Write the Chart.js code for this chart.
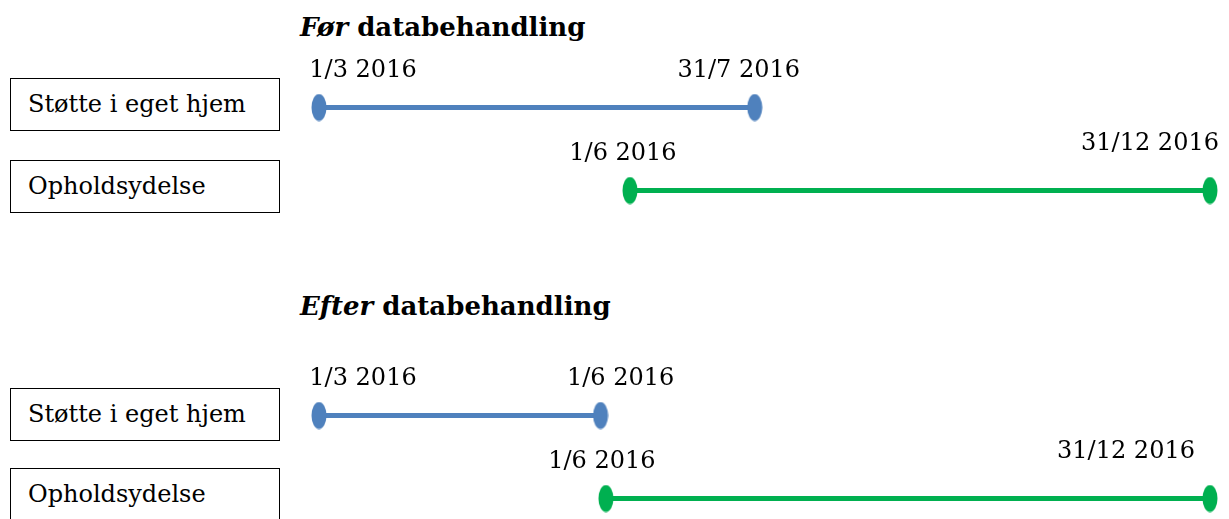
<!DOCTYPE html>
<html>
<head>
<meta charset="utf-8">
<script src="https://cdn.jsdelivr.net/npm/chart.js@4/dist/chart.umd.min.js"></script>
<style>
    html, body { margin: 0; padding: 0; background: #fff; width: 1229px; height: 519px; overflow: hidden; }
    .title { position: absolute; left: 300px; font: bold 26px "DejaVu Serif", serif; color: #000; line-height: 32px; }
    .title i { font-style: italic; }
    .box { position: absolute; left: 10px; height: 51px; border: 1.5px solid #000;
           font: 24px "DejaVu Serif", serif; line-height: 51px; padding-left: 17px; box-sizing: content-box; width: 251px; }
    .panel { position: absolute; left: 0; width: 1229px; height: 266px; }
</style>
</head>
<body>
<div class="title" style="top:11px"><i>Før</i> databehandling</div>
<div class="title" style="top:290px"><i>Efter</i> databehandling</div>
<div id="boxes"></div>
<div class="panel" style="top:16px"><canvas id="before"></canvas></div>
<div class="panel" style="top:324px"><canvas id="after"></canvas></div>
<script>
// lanes
const categories = ['Støtte i eget hjem', 'Opholdsydelse'];

// "Før databehandling"
const beforeStartDates = ['1/3 2016', '1/6 2016'];
const beforeEndDates = ['31/7 2016', '31/12 2016'];
const beforeStartPos = [0, 34.9];   // position on the schematic timeline, 0-100
const beforeEndPos = [48.9, 100];

// "Efter databehandling"
const afterStartDates = ['1/3 2016', '1/6 2016'];
const afterEndDates = ['1/6 2016', '31/12 2016'];
const afterStartPos = [0, 32.2];
const afterEndPos = [31.6, 100];

const laneColors = ['#4f81bd', '#00b050'];

// label offsets from each end point [dx, dy] (center of text)
const beforeLabelOffsets = [[[44, -37], [-16, -37]], [[-7, -37], [-60, -47]]];
const afterLabelOffsets = [[[44, -37], [20, -37]], [[-4, -37], [-84, -47]]];

// boxed lane names
const boxTops = [[78, 160], [388, 468]];
const boxesEl = document.getElementById('boxes');
boxTops.forEach(tops => {
    tops.forEach((top, i) => {
        const d = document.createElement('div');
        d.className = 'box';
        d.style.top = top + 'px';
        d.textContent = categories[i];
        boxesEl.appendChild(d);
    });
});

function ellipse(color) {
    const c = document.createElement('canvas');
    c.width = 16;
    c.height = 28;
    const g = c.getContext('2d');
    g.fillStyle = color;
    g.beginPath();
    g.ellipse(8, 14, 7.5, 13.5, 0, 0, Math.PI * 2);
    g.fill();
    return c;
}

const dateLabels = {
    id: 'dateLabels',
    afterDatasetsDraw(chart, args, opts) {
        const ctx = chart.ctx;
        ctx.save();
        ctx.font = '24px "DejaVu Serif", serif';
        ctx.fillStyle = '#000';
        ctx.textAlign = 'center';
        ctx.textBaseline = 'middle';
        chart.data.datasets.forEach((ds, i) => {
            const meta = chart.getDatasetMeta(i);
            meta.data.forEach((pt, j) => {
                const off = opts.offsets[i][j];
                ctx.fillText(ds.dates[j], pt.x + off[0], pt.y + off[1]);
            });
        });
        ctx.restore();
    }
};

function renderPanel(canvasId, startPos, endPos, startDates, endDates, offsets) {
    const datasets = categories.map((cat, i) => ({
        label: cat,
        data: [{ x: startPos[i], y: cat }, { x: endPos[i], y: cat }],
        dates: [startDates[i], endDates[i]],
        borderColor: laneColors[i],
        borderWidth: 5,
        pointStyle: ellipse(laneColors[i]),
        pointRadius: 10,
        clip: false
    }));

    new Chart(document.getElementById(canvasId), {
        type: 'line',
        data: { datasets },
        options: {
            responsive: true,
            maintainAspectRatio: false,
            animation: false,
            layout: { padding: { left: 319, right: 19, top: 50, bottom: 50 } },
            plugins: {
                legend: { display: false },
                tooltip: { enabled: false },
                dateLabels: { offsets }
            },
            scales: {
                x: { type: 'linear', min: 0, max: 100, display: false },
                y: { type: 'category', labels: categories, offset: true, display: false }
            }
        },
        plugins: [dateLabels]
    });
}

renderPanel('before', beforeStartPos, beforeEndPos, beforeStartDates, beforeEndDates, beforeLabelOffsets);
renderPanel('after', afterStartPos, afterEndPos, afterStartDates, afterEndDates, afterLabelOffsets);
</script>
</body>
</html>
